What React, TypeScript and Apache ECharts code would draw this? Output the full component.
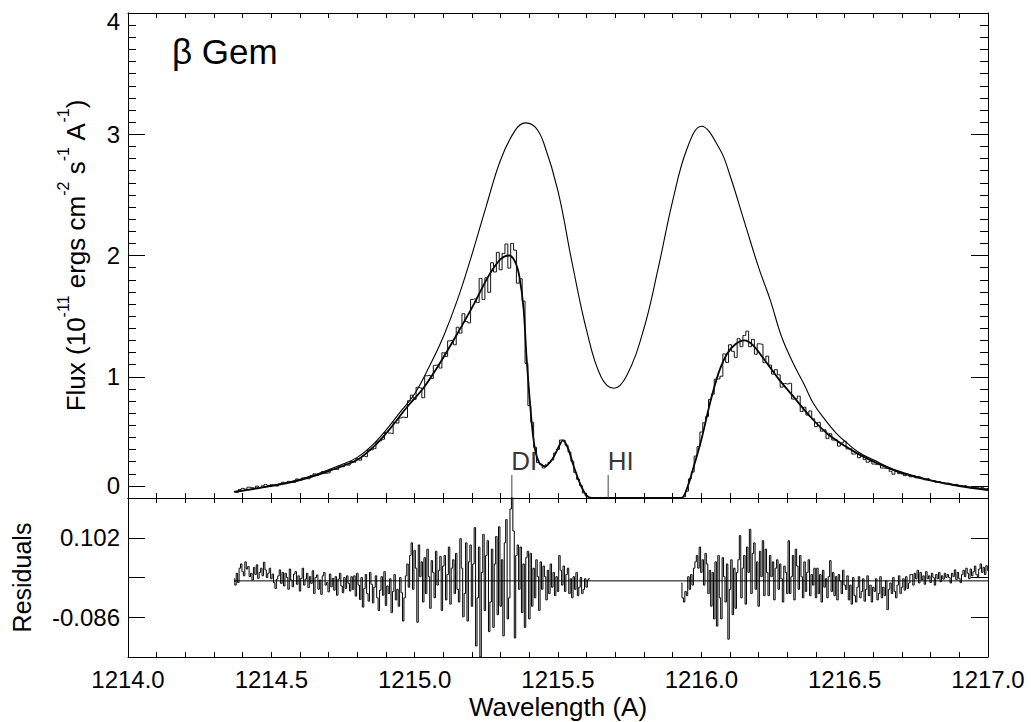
import React, { useEffect, useRef } from 'react';
import * as echarts from 'echarts';

const FONT = '"Liberation Sans", Arial, Helvetica, sans-serif';

// Wavelength axis (Angstrom)
const X_MIN = 1214.0;
const X_MAX = 1217.0;
const X_TICK_STEP = 0.1;

// Flux axis tick labels; "0" is drawn at the 0.1 tick as in the original plot
const FLUX_TICKS = [1, 2, 3, 4];
const FLUX_ZERO_LABEL_AT = 0.1;

// Residual axis
const RESID_MIN = -0.18;
const RESID_MAX = 0.196;
const RESID_STEP = 0.094;
const RESID_TICK_LABELS = ['0.102', '-0.086'];

// Observed spectrum, binned 0.01 A starting at 1214.37 A
const OBS_START = 1214.37;
const OBS_BIN = 0.01;
const OBS_FLUX = [
  0.053, 0.047, 0.070, 0.079, 0.073, 0.089, 0.087, 0.082, 0.098, 0.087,
  0.101, 0.111, 0.103, 0.110, 0.105, 0.099, 0.118, 0.130, 0.118, 0.137,
  0.135, 0.129, 0.157, 0.144, 0.165, 0.167, 0.159, 0.185, 0.199, 0.186,
  0.200, 0.218, 0.204, 0.207, 0.236, 0.237, 0.236, 0.265, 0.258, 0.279,
  0.271, 0.301, 0.295, 0.324, 0.312, 0.345, 0.340, 0.398, 0.397, 0.407,
  0.465, 0.472, 0.485, 0.540, 0.536, 0.532, 0.624, 0.618, 0.660, 0.666,
  0.664, 0.802, 0.848, 0.814, 0.913, 0.908, 0.827, 1.008, 1.011, 0.986,
  1.094, 1.098, 1.072, 1.198, 1.168, 1.296, 1.300, 1.264, 1.408, 1.360,
  1.520, 1.456, 1.444, 1.638, 1.642, 1.612, 1.811, 1.637, 1.816, 1.696,
  1.940, 1.864, 2.026, 1.882, 2.017, 2.095, 1.896, 2.100, 2.044, 1.772,
  1.808, 1.624, 1.110, 0.762, 0.624, 0.418, 0.292, 0.279, 0.248, 0.274,
  0.293, 0.314, 0.371, 0.401, 0.478, 0.476, 0.435, 0.379, 0.303, 0.211,
  0.154, 0.102, 0.042, 0.017, 0.007,
  0, 0, 0, 0, 0, 0, 0, 0, 0, 0,
  0, 0, 0, 0, 0, 0, 0, 0, 0, 0,
  0, 0, 0, 0, 0, 0, 0, 0, 0, 0, 0,
  0.002, 0.010, 0.056, 0.158, 0.214, 0.346, 0.424, 0.544, 0.620, 0.672,
  0.812, 0.856, 0.980, 0.982, 1.004, 1.188, 1.118, 1.264, 1.210, 1.160,
  1.314, 1.248, 1.340, 1.376, 1.248, 1.308, 1.186, 1.272, 1.268, 1.116,
  1.170, 1.096, 1.022, 1.058, 1.016, 0.914, 0.944, 0.940, 0.946, 0.816,
  0.818, 0.840, 0.714, 0.748, 0.684, 0.718, 0.653, 0.588, 0.624, 0.551,
  0.562, 0.490, 0.530, 0.478, 0.479, 0.428, 0.453, 0.468, 0.405, 0.406,
  0.362, 0.365, 0.332, 0.349, 0.317, 0.295, 0.302, 0.280, 0.277, 0.283,
  0.247, 0.245, 0.245, 0.220, 0.196, 0.222, 0.201, 0.198, 0.184, 0.196,
  0.175, 0.186, 0.167, 0.175, 0.163, 0.151, 0.160, 0.145, 0.144, 0.130,
  0.135, 0.127, 0.118, 0.123, 0.115, 0.104, 0.112, 0.104, 0.097, 0.102,
  0.091, 0.083, 0.089, 0.091, 0.080, 0.086, 0.077, 0.079,
];

// Model fit (smooth), [wavelength, flux]
const MODEL_FIT = [
  [1214.37, 0.05], [1214.47, 0.087], [1214.59, 0.142], [1214.70, 0.222], [1214.80, 0.315],
  [1214.86, 0.43], [1214.91, 0.56], [1214.97, 0.74], [1215.03, 0.905], [1215.09, 1.12],
  [1215.15, 1.36], [1215.20, 1.57], [1215.26, 1.84], [1215.30, 1.97], [1215.33, 2.0],
  [1215.35, 1.95], [1215.365, 1.83], [1215.38, 1.56], [1215.39, 1.17], [1215.40, 0.85],
  [1215.41, 0.58], [1215.42, 0.40], [1215.435, 0.29], [1215.455, 0.26], [1215.48, 0.32],
  [1215.50, 0.41], [1215.517, 0.475], [1215.535, 0.41], [1215.555, 0.26], [1215.575, 0.13],
  [1215.595, 0.035], [1215.615, 0.0], [1215.93, 0.0], [1215.95, 0.08], [1215.97, 0.23],
  [1216.00, 0.48], [1216.03, 0.78], [1216.06, 1.03], [1216.09, 1.19], [1216.12, 1.27],
  [1216.15, 1.30], [1216.18, 1.26], [1216.22, 1.14], [1216.27, 0.98], [1216.32, 0.84],
  [1216.38, 0.67], [1216.44, 0.53], [1216.50, 0.43], [1216.55, 0.36], [1216.62, 0.28],
  [1216.70, 0.206], [1216.79, 0.15], [1216.90, 0.099], [1217.00, 0.065],
];

// Intrinsic (unabsorbed) profile, [wavelength, flux]
const INTRINSIC = [
  [1214.37, 0.053], [1214.45, 0.082], [1214.55, 0.125], [1214.65, 0.19], [1214.75, 0.28],
  [1214.80, 0.335], [1214.85, 0.43], [1214.90, 0.56], [1214.95, 0.71], [1215.00, 0.86],
  [1215.05, 1.08], [1215.10, 1.33], [1215.15, 1.64], [1215.20, 2.01], [1215.25, 2.41],
  [1215.30, 2.79], [1215.35, 3.03], [1215.385, 3.094], [1215.42, 3.06], [1215.45, 2.93],
  [1215.50, 2.53], [1215.55, 1.93], [1215.60, 1.38], [1215.65, 1.00], [1215.695, 0.905],
  [1215.74, 1.01], [1215.80, 1.40], [1215.85, 1.90], [1215.90, 2.45], [1215.95, 2.88],
  [1216.00, 3.066], [1216.065, 2.874], [1216.10, 2.66], [1216.15, 2.28], [1216.20, 1.90],
  [1216.24, 1.636], [1216.28, 1.33], [1216.32, 1.114], [1216.36, 0.93], [1216.39, 0.784],
  [1216.43, 0.65], [1216.47, 0.536], [1216.51, 0.45], [1216.55, 0.375], [1216.60, 0.315],
  [1216.67, 0.238], [1216.79, 0.152], [1216.90, 0.103], [1217.00, 0.068],
];

// Residuals, binned 0.005 A
const RESID_BIN = 0.005;
const RESID_LEFT_START = 1214.37;
const RESID_LEFT = [
  0.005, -0.010, 0.018, -0.004, 0.030, 0.040, 0.022, 0.012, 0.045, 0.028,
  0.034, 0.010, 0.018, 0.002, 0.032, 0.015, 0.038, 0.006, 0.020, 0.030,
  0.012, 0.044, 0.026, 0.008, 0.018, 0.030, 0.005, 0.016, -0.004,
  -0.018, 0.004, 0.012, 0.026, -0.006, 0.020, -0.012, 0.018, 0.008, -0.020,
  0.028, 0.002, -0.014, 0.016, 0.022, -0.008, 0.012, -0.024, 0.006, 0.030,
  -0.010, 0.004, 0.018, -0.016, 0.010, -0.006, 0.024, -0.030, 0.008, 0.014,
  -0.020, 0.002, -0.032, 0.012, 0.020, -0.010, -0.004, -0.026, 0.016, -0.014,
  0.006, -0.022, 0.010, -0.034, 0.004, 0.018, -0.012, -0.028, 0.008, -0.018,
  0.012, -0.006, -0.024, 0.010,
  -0.020, 0.012, -0.036, 0.018, -0.010, -0.044, 0.008, -0.062, -0.018, 0.015,
  -0.030, -0.048, 0.020, -0.008, -0.052, -0.015, 0.012, -0.040, -0.070, -0.022,
  0.010, -0.034, 0.022, -0.058, -0.012, -0.030, 0.005, -0.075, -0.025, 0.015,
  -0.045, -0.020, -0.060, 0.008, -0.028, -0.095, -0.040, 0.012,
  0.040, -0.015, 0.060, 0.090, -0.020, 0.072, 0.030, -0.098, 0.085, 0.010,
  0.045, -0.050, 0.055, -0.030, 0.075, 0.010, -0.065, 0.048, 0.020, -0.040,
  0.070, -0.010, 0.025, 0.058, -0.070, 0.035, 0.060, -0.045, 0.015, 0.080,
  -0.055, 0.030, 0.050, -0.030, 0.065, -0.020,
  -0.050, 0.100, 0.030, -0.085, -0.030, 0.090, -0.095, 0.045, 0.085, -0.060,
  0.040, 0.126, -0.154, -0.040, 0.080, -0.180, 0.020, 0.110, -0.070, 0.060,
  0.095, -0.120, -0.050, 0.075, -0.110, 0.040, 0.105, -0.080, 0.128, -0.060,
  0.050, -0.130, 0.090, 0.145, -0.090, -0.040, 0.170, 0.215,
  0.118, -0.135, 0.060, 0.085, -0.020, 0.080, -0.075, 0.040, -0.110, 0.055,
  0.070, -0.090, 0.065, -0.060, 0.030, -0.040, 0.050, 0.010, -0.070, 0.045,
  -0.020, 0.035, 0.010, -0.045, 0.025, -0.030, 0.040, -0.015, 0.020, -0.035,
  0.010, -0.025,
  0.060, 0.025, -0.010, 0.035, -0.025, 0.015, 0.030, -0.030, 0.005, -0.040,
  0.010, -0.020, 0.020, -0.035, -0.015, 0.008, -0.030, -0.020, 0.005, -0.015,
  0.002, 0.006,
];
const RESID_RIGHT_START = 1215.93;
const RESID_RIGHT = [
  -0.005, -0.040, -0.050, -0.025, -0.035, 0.010, -0.020, 0.015, -0.010, 0.030,
  0.045, 0.060, 0.030, 0.080, 0.020, 0.050, -0.010, 0.065, 0.040, -0.030, 0.025,
  -0.060, 0.020, -0.090, 0.045, -0.107, 0.060, -0.040, -0.090, 0.055, 0.010,
  -0.050, 0.040, -0.138, -0.020, 0.050, -0.080, 0.030, -0.065, 0.020,
  0.050, 0.107, -0.040, 0.030, 0.060, -0.055, 0.080, 0.020, 0.122, -0.030,
  0.065, 0.090, -0.020, 0.045, -0.060, 0.070, 0.010, 0.095, -0.035,
  0.075, 0.020, -0.035, 0.060, 0.010, 0.045, -0.045, 0.030, 0.050, -0.020,
  0.040, 0.005, -0.050, 0.035, 0.020, -0.030,
  0.095, -0.030, 0.010, 0.060, -0.045, 0.075, 0.035, -0.020, 0.060, 0.010,
  -0.040, 0.045, -0.025, 0.020, 0.050, -0.035, 0.015, -0.010, 0.030, -0.040,
  0.030, -0.030, 0.015, -0.050, 0.025, -0.015, 0.005, -0.040, 0.010, 0.048,
  -0.025, 0.020, -0.035, 0.010, -0.045, 0.015, 0.000, -0.030, 0.025, -0.010,
  -0.020, 0.012, -0.045, -0.010, -0.055, 0.008, -0.035, -0.050, -0.015, 0.010,
  -0.040, -0.025, 0.005, -0.048, -0.020, 0.012, -0.035, -0.010, -0.050, -0.015,
  -0.025, 0.005, -0.045, -0.030, 0.010, -0.040, -0.015, -0.035, 0.000, -0.068,
  -0.020, -0.005, -0.030, 0.008, -0.025, -0.040, -0.010, 0.012, -0.030, -0.015,
  0.005, -0.022, 0.010, -0.018, -0.005, 0.015,
  0.015, -0.010, 0.018, 0.005, 0.025, -0.005, 0.020, 0.002, 0.012, -0.008,
  0.022, 0.005, 0.012, -0.004, 0.018, 0.008, -0.010, 0.015, 0.005, 0.020,
  -0.002, 0.012, 0.004, 0.018, 0.008, 0.015,
  0.008, -0.005, 0.018, 0.010, 0.026, 0.003, 0.020, 0.006, -0.004, 0.015,
  0.025, 0.010, 0.030, 0.018, 0.005, 0.028, 0.012, 0.022, 0.035, 0.015,
  0.010, 0.028, 0.040, 0.020, 0.032, 0.015, 0.036, 0.025,
];
const RESID_ZERO_RANGE = [1214.37, 1217.0];

// Absorption line markers
const LINE_NAMES = ['DI', 'HI'];
const LINE_WAVES = [1215.339, 1215.675];
const LINE_MARK_TOP = 0.19;

const STAR_NAME = '\u03b2 Gem';

const binned = (start: number, step: number, values: number[]) =>
  values.map((v, i) => [Number((start + i * step).toFixed(3)), v]);

const textStyle = { fontFamily: FONT, color: '#000', fontSize: 24 };

export default function App() {
  const ref = useRef<HTMLDivElement>(null);

  useEffect(() => {
    if (!ref.current) return;
    const chart = echarts.init(ref.current, null, { renderer: 'svg' });

    const axisLine = { show: true, onZero: false, lineStyle: { color: '#000', width: 1 } };

    const xAxisDef = (gridIndex: number, position: string, labels: boolean, name?: string) => ({
      type: 'value',
      gridIndex,
      position,
      min: X_MIN,
      max: X_MAX,
      interval: X_TICK_STEP,
      axisLine,
      axisTick: { show: true, inside: true, length: 5, lineStyle: { color: '#000', width: 1 } },
      axisLabel: {
        show: labels,
        ...textStyle,
        margin: 10,
        showMinLabel: true,
        showMaxLabel: true,
        formatter: (v: number) => {
          const k = Math.round(v * 10);
          return k % 5 === 0 ? (k / 10).toFixed(1) : '';
        },
      },
      splitLine: { show: false },
      name: name || '',
      nameLocation: 'middle',
      nameGap: 37,
      nameTextStyle: { ...textStyle, fontSize: 26, lineHeight: 26 },
    });

    const fluxY = (position: string, labels: boolean) => ({
      type: 'value',
      gridIndex: 0,
      position,
      min: 0,
      max: 4,
      interval: 1,
      axisLine,
      axisTick: { show: true, inside: true, length: 17, lineStyle: { color: '#000', width: 1 } },
      minorTick: { show: true, splitNumber: 10, length: 8, lineStyle: { color: '#000', width: 1 } },
      minorSplitLine: { show: false },
      splitLine: { show: false },
      axisLabel: {
        show: labels,
        ...textStyle,
        margin: 8,
        formatter: (v: number) => {
          if (!FLUX_TICKS.includes(v)) return '';
          return v === 4 ? '{t|4}' : String(v);
        },
        rich: { t: { ...textStyle, padding: [17, 0, 0, 0] } },
      },
      name: labels ? 'Flux (10{s|-11} ergs cm{s|-2} s{s|-1} A{s|-1})' : '',
      nameLocation: 'middle',
      nameGap: 27,
      nameTextStyle: {
        ...textStyle,
        fontSize: 26,
        lineHeight: 40,
        rich: { s: { fontFamily: FONT, color: '#000', fontSize: 16, verticalAlign: 'top' } },
      },
    });

    const residY = (position: string, labels: boolean) => ({
      type: 'value',
      gridIndex: 1,
      position,
      min: RESID_MIN,
      max: RESID_MAX,
      interval: RESID_STEP,
      axisLine,
      axisTick: { show: true, inside: true, length: 17, lineStyle: { color: '#000', width: 1 } },
      splitLine: { show: false },
      axisLabel: {
        show: labels,
        ...textStyle,
        margin: 8,
        showMinLabel: false,
        showMaxLabel: false,
        formatter: (v: number) => {
          const s = v.toFixed(3);
          return RESID_TICK_LABELS.includes(s) ? s : '';
        },
      },
      name: labels ? 'Residuals' : '',
      nameLocation: 'middle',
      nameGap: 94,
      nameTextStyle: { ...textStyle, fontSize: 25, lineHeight: 24 },
    });

    const series: any[] = [
      {
        type: 'line', xAxisIndex: 0, yAxisIndex: 0, data: INTRINSIC,
        smooth: 0.4, symbol: 'none', silent: true,
        lineStyle: { color: '#000', width: 1.1 },
      },
      {
        type: 'line', xAxisIndex: 0, yAxisIndex: 0, data: MODEL_FIT,
        smooth: 0.3, symbol: 'none', silent: true,
        lineStyle: { color: '#000', width: 1.8 },
      },
      {
        type: 'line', xAxisIndex: 0, yAxisIndex: 0, data: binned(OBS_START, OBS_BIN, OBS_FLUX),
        step: 'middle', symbol: 'none', silent: true,
        lineStyle: { color: '#111', width: 1 },
        markLine: {
          silent: true,
          symbol: ['none', 'none'],
          lineStyle: { color: '#000', width: 1, type: 'solid' },
          label: {
            show: true,
            position: 'start',
            distance: 8,
            ...textStyle,
            formatter: (p: any) => (p.dataIndex === 0 ? '0' : ''),
          },
          data: [
            [{ coord: [X_MIN, FLUX_ZERO_LABEL_AT] }, { coord: [X_MIN + 0.06, FLUX_ZERO_LABEL_AT] }],
            [{ coord: [X_MAX - 0.06, FLUX_ZERO_LABEL_AT] }, { coord: [X_MAX, FLUX_ZERO_LABEL_AT] }],
          ],
        },
      },
      ...LINE_WAVES.map((w) => ({
        type: 'line', xAxisIndex: 0, yAxisIndex: 0,
        data: [[w, 0], [w, LINE_MARK_TOP]],
        symbol: 'none', silent: true,
        lineStyle: { color: '#444', width: 1 },
      })),
      {
        type: 'scatter', xAxisIndex: 0, yAxisIndex: 0, silent: true,
        symbol: 'rect', symbolSize: 1,
        itemStyle: { color: 'rgba(0,0,0,0)' },
        data: LINE_WAVES.map((w, i) => ({ value: [w, LINE_MARK_TOP], name: LINE_NAMES[i] })),
        label: {
          show: true,
          position: [0, 0],
          align: 'left',
          verticalAlign: 'bottom',
          ...textStyle,
          fontSize: 26,
          formatter: (p: any) => p.name,
        },
      },
      {
        type: 'line', xAxisIndex: 2, yAxisIndex: 2,
        data: RESID_ZERO_RANGE.map((x) => [x, 0]),
        symbol: 'none', silent: true,
        lineStyle: { color: '#000', width: 1 },
      },
      {
        type: 'line', xAxisIndex: 2, yAxisIndex: 2,
        data: binned(RESID_LEFT_START, RESID_BIN, RESID_LEFT),
        step: 'middle', symbol: 'none', silent: true,
        lineStyle: { color: '#000', width: 1 },
      },
      {
        type: 'line', xAxisIndex: 2, yAxisIndex: 2,
        data: binned(RESID_RIGHT_START, RESID_BIN, RESID_RIGHT),
        step: 'middle', symbol: 'none', silent: true,
        lineStyle: { color: '#000', width: 1 },
      },
    ];

    chart.setOption({
      animation: false,
      backgroundColor: '#fff',
      textStyle: { fontFamily: FONT },
      grid: [
        { left: 128, top: 13, width: 860, height: 485 },
        { left: 128, top: 498, width: 860, height: 159 },
      ],
      xAxis: [
        xAxisDef(0, 'bottom', false),
        xAxisDef(0, 'top', false),
        xAxisDef(1, 'bottom', true, 'Wavelength (A)'),
        xAxisDef(1, 'top', false),
      ],
      yAxis: [fluxY('left', true), fluxY('right', false), residY('left', true), residY('right', false)],
      series,
      graphic: [
        {
          type: 'text',
          x: 172,
          y: 51,
          style: {
            text: STAR_NAME,
            font: `35px ${FONT}`,
            fill: '#000',
            align: 'left',
            verticalAlign: 'middle',
          },
        },
      ],
    });

    return () => chart.dispose();
  }, []);

  return (
    <div
      ref={ref}
      style={{ position: 'absolute', left: 0, top: 0, width: 1031, height: 722, background: '#fff' }}
    />
  );
}
